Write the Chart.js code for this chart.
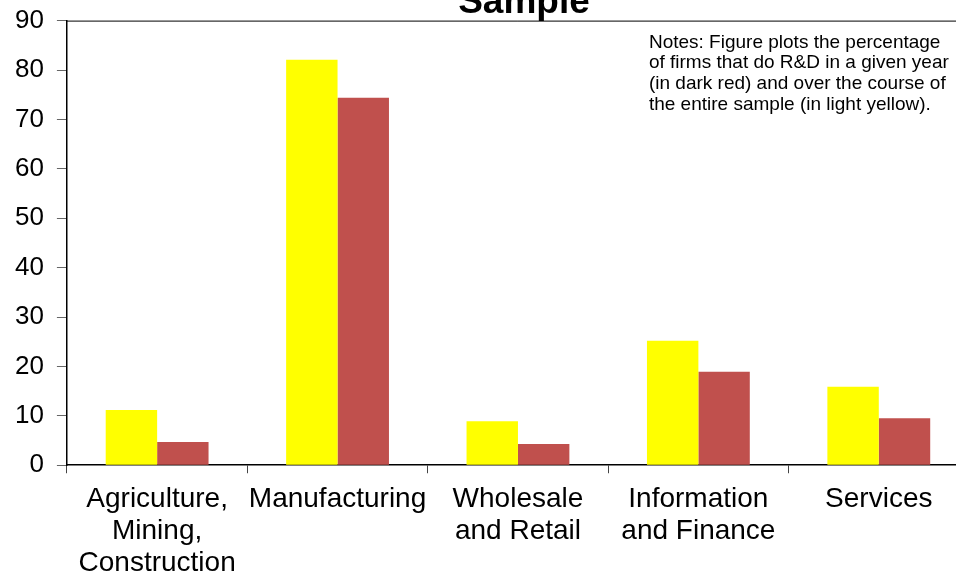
<!DOCTYPE html>
<html>
<head>
<meta charset="utf-8">
<title>R&amp;D by sector</title>
<script src="https://cdn.jsdelivr.net/npm/chart.js@4/dist/chart.umd.min.js"></script>
<style>
    html, body { margin: 0; padding: 0; background: #fff; }
    #wrap { position: relative; width: 956px; height: 578px; overflow: hidden; }
    #rdChart { position: absolute; left: 0; top: -8px; }
</style>
</head>
<body>
<div id="wrap">
    <canvas id="rdChart" width="976" height="597"></canvas>
</div>
<script>
// sectors and shares of firms doing R&D (percent)
const sectors = [
    ["Agriculture,", "Mining,", "Construction"],
    "Manufacturing",
    ["Wholesale", "and Retail"],
    ["Information", "and Finance"],
    "Services"
];
const entireSample = [11.2, 82.1, 8.9, 25.2, 15.9];
const givenYear = [4.7, 74.4, 4.3, 18.9, 9.5];
const yTicks = [0, 10, 20, 30, 40, 50, 60, 70, 80, 90];

const titleText = "Sample";
const noteLines = [
    "Notes: Figure plots the percentage",
    "of firms that do R&D in a given year",
    "(in dark red) and over the course of",
    "the entire sample (in light yellow)."
];

// title (runs off the top edge), frame line along the top of the plot, notes block
const extras = {
    id: "extras",
    afterDraw(chart) {
        const { ctx, chartArea } = chart;
        ctx.save();
        ctx.fillStyle = "#000";
        ctx.font = "bold 37px Arial, 'Liberation Sans', sans-serif";
        ctx.textAlign = "center";
        ctx.textBaseline = "alphabetic";
        ctx.fillText(titleText, (chartArea.left + chartArea.right) / 2 + 6, chartArea.top - 8);

        ctx.strokeStyle = "#000";
        ctx.lineWidth = 1;
        ctx.beginPath();
        ctx.moveTo(chartArea.left, chartArea.top + 0.5);
        ctx.lineTo(chartArea.right, chartArea.top + 0.5);
        ctx.stroke();

        ctx.font = "19px Arial, 'Liberation Sans', sans-serif";
        ctx.textAlign = "left";
        noteLines.forEach((line, i) => {
            ctx.fillText(line, chartArea.left + 582, chartArea.top + 27 + i * 20.7);
        });
        ctx.restore();
    }
};

Chart.defaults.font.family = "Arial, 'Liberation Sans', sans-serif";
Chart.defaults.color = "#000";

new Chart(document.getElementById("rdChart"), {
    type: "bar",
    data: {
        labels: sectors,
        datasets: [
            {
                label: "Entire sample",
                data: entireSample,
                backgroundColor: "#ffff00",
                categoryPercentage: 0.57,
                barPercentage: 1.0
            },
            {
                label: "Given year",
                data: givenYear,
                backgroundColor: "#c0504d",
                categoryPercentage: 0.57,
                barPercentage: 1.0
            }
        ]
    },
    options: {
        responsive: false,
        animation: false,
        devicePixelRatio: 1,
        layout: { padding: { left: 2, right: 7, top: 13, bottom: 0 } },
        plugins: {
            legend: { display: false },
            tooltip: { enabled: false },
            title: { display: false }
        },
        scales: {
            x: {
                grid: {
                    drawOnChartArea: false,
                    drawTicks: true,
                    tickLength: 8,
                    color: "#444",
                    offset: true
                },
                border: { color: "#000", width: 1.5 },
                ticks: {
                    font: { size: 28, lineHeight: 1.14 },
                    padding: 10,
                    maxRotation: 0,
                    autoSkip: false
                }
            },
            y: {
                min: 0,
                max: 90,
                afterBuildTicks(axis) {
                    axis.ticks = yTicks.map(v => ({ value: v }));
                },
                grid: {
                    drawOnChartArea: false,
                    drawTicks: true,
                    tickLength: 10,
                    color: "#666"
                },
                border: { color: "#000", width: 1.5 },
                ticks: {
                    font: { size: 26 },
                    padding: 13
                }
            }
        }
    },
    plugins: [extras]
});
</script>
</body>
</html>
